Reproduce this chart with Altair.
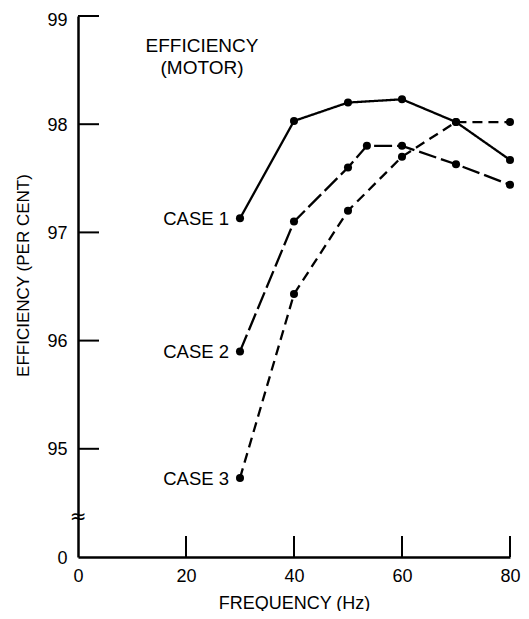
import altair as alt
import pandas as pd

# ---- data ----
case_names = ["CASE 1", "CASE 2", "CASE 3"]
freq_case1 = [30, 40, 50, 60, 70, 80]
eff_case1 = [97.13, 98.03, 98.20, 98.23, 98.02, 97.67]
freq_case2 = [30, 40, 50, 53.5, 60, 70, 80]
eff_case2 = [95.90, 97.10, 97.60, 97.80, 97.80, 97.63, 97.44]
freq_case3 = [30, 40, 50, 60, 70, 80]
eff_case3 = [94.73, 96.43, 97.20, 97.70, 98.02, 98.02]

x_ticks = [0, 20, 40, 60, 80]
x_inner_ticks = [20, 40, 60, 80]
y_ticks = [94, 95, 96, 97, 98, 99]
y_inner_ticks = [95, 96, 97, 98, 99]
axis_break_value = [94.37]
annotation = "EFFICIENCY\n(MOTOR)"

FONT = "Liberation Sans"
W, H = 432, 541

frames = []
for name, fx, fy in zip(case_names, [freq_case1, freq_case2, freq_case3],
                        [eff_case1, eff_case2, eff_case3]):
    frames.append(pd.DataFrame({"freq": fx, "eff": fy, "case": name}))
df = pd.concat(frames, ignore_index=True)
first_pts = df.groupby("case", as_index=False).first()

x_enc = alt.X("freq:Q",
              scale=alt.Scale(domain=[0, 80], nice=False, zero=False),
              axis=alt.Axis(values=x_ticks, ticks=False, tickSize=0, grid=False,
                            domainWidth=2.5, domainColor="black",
                            labelFont=FONT, labelFontSize=18, labelColor="black",
                            labelPadding=10, labelFlush=False,
                            title="FREQUENCY (Hz)", titleFont=FONT, titleFontSize=18,
                            titleFontWeight="normal", titleColor="black",
                            titleBaseline="middle", titleY=46))
y_enc = alt.Y("eff:Q",
              scale=alt.Scale(domain=[94, 99], nice=False, zero=False),
              axis=alt.Axis(values=y_ticks, ticks=False, tickSize=0, grid=False,
                            labelExpr="datum.value == 94 ? '0' : datum.label",
                            labelOffset={"condition": {"test": "datum.value == 99", "value": 4},
                                         "value": 1},
                            domainWidth=2.5, domainColor="black",
                            labelFont=FONT, labelFontSize=18, labelColor="black",
                            labelPadding=11, labelFlush=False,
                            title="EFFICIENCY (PER CENT)", titleFont=FONT,
                            titleFontSize=17, titleFontWeight="normal",
                            titleColor="black", titleBaseline="middle",
                            titleAngle=270, titleX=-55, titleY=259))

base = alt.Chart(df)

dashes = {"CASE 1": [1, 0], "CASE 2": [18, 5], "CASE 3": [10, 6]}
lines = [
    base.transform_filter(alt.datum.case == name)
    .mark_line(color="black", strokeWidth=2.3, strokeDash=dashes[name])
    .encode(x=x_enc, y=y_enc, order="freq:Q")
    for name in case_names
]

points = base.mark_point(filled=True, color="black", size=65, opacity=1).encode(
    x=x_enc, y=y_enc)

labels = alt.Chart(first_pts).mark_text(
    align="right", baseline="middle", dx=-11, dy=1, font=FONT, fontSize=18.5,
    color="black").encode(x=x_enc, y=y_enc, text="case:N")

y_tick_rules = alt.Chart(pd.DataFrame({"eff": y_inner_ticks})).mark_rule(
    color="black", strokeWidth=2).encode(y=y_enc, x=alt.value(0), x2=alt.value(21))

x_tick_rules = alt.Chart(pd.DataFrame({"freq": x_inner_ticks})).mark_rule(
    color="black", strokeWidth=2).encode(x=x_enc, y=alt.value(H - 21), y2=alt.value(H))

axis_break = alt.Chart(pd.DataFrame({"eff": axis_break_value, "freq": [0]})).mark_text(
    text="≈", font="DejaVu Sans", fontSize=20, color="black",
    baseline="middle", align="center").encode(x=x_enc, y=y_enc)

note = alt.Chart(pd.DataFrame({"t": [annotation]})).mark_text(
    lineBreak="\n", font=FONT, fontSize=19, color="black", align="center",
    baseline="middle", lineHeight=22).encode(
    x=alt.value(124), y=alt.value(30), text="t:N")

chart = alt.layer(*lines, points, labels, y_tick_rules, x_tick_rules, axis_break, note).properties(
    width=W, height=H,
    autosize=alt.AutoSizeParams(type="none"),
    padding={"left": 70, "top": 8, "right": 11, "bottom": 54},
    background="white",
).configure_view(stroke=None)

chart.save("out.html", embed_options={"renderer": "svg", "actions": False})
